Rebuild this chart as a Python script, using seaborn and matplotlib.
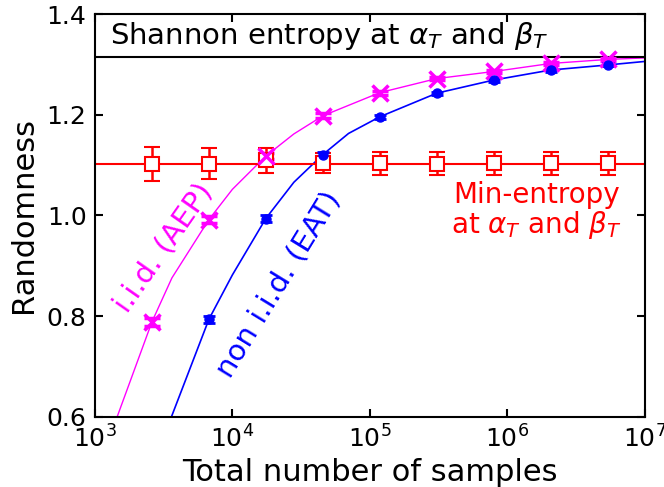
import numpy as np
import pandas as pd
import seaborn as sns
import matplotlib
matplotlib.use("Agg")
import matplotlib.pyplot as plt

# sample sizes where the protocol was evaluated
samples = [2.6e3, 6.75e3, 1.75e4, 4.55e4, 1.18e5, 3.07e5, 7.95e5, 2.07e6, 5.37e6]

# min-entropy estimates (red squares)
min_ent = [1.103, 1.103, 1.110, 1.105, 1.104, 1.103, 1.104, 1.104, 1.104]
min_err = [0.034, 0.031, 0.025, 0.020, 0.023, 0.023, 0.023, 0.023, 0.023]

# iid (AEP) points, magenta
iid_pts = [0.789, 0.992, 1.118, 1.198, 1.244, 1.272, 1.287, 1.302, 1.310]
iid_err = [0.008, 0.007, 0.006, 0.005, 0.004, 0.003, 0.003, 0.003, 0.003]

# non iid (EAT) points, blue (no point at the first sample size)
eat_samples = samples[1:]
eat_pts = [0.794, 0.994, 1.121, 1.196, 1.243, 1.269, 1.289, 1.299]
eat_err = [0.007, 0.006, 0.006, 0.004, 0.003, 0.003, 0.003, 0.003]

# theory curves
iid_curve_n = [1.45e3, 2.6e3, 3.63e3, 6.75e3, 1.0e4, 1.75e4, 2.8e4, 4.55e4,
               1.18e5, 3.07e5, 7.95e5, 2.07e6, 5.37e6, 1e7]
iid_curve = [0.600, 0.789, 0.876, 0.992, 1.052, 1.118, 1.162, 1.198,
             1.244, 1.272, 1.286, 1.302, 1.310, 1.313]
eat_curve_n = [3.6e3, 6.75e3, 1.0e4, 1.75e4, 2.8e4, 4.55e4, 7e4, 1.18e5,
               3.07e5, 7.95e5, 2.07e6, 5.37e6, 1e7]
eat_curve = [0.600, 0.794, 0.882, 0.994, 1.066, 1.121, 1.163, 1.196,
             1.243, 1.269, 1.289, 1.299, 1.306]

shannon = 1.315
min_entropy = 1.103

sns.set_style("ticks")
plt.rcParams['font.family'] = ['DejaVu Sans']
plt.rcParams['mathtext.fontset'] = 'dejavusans'
for k in ['text.color', 'axes.labelcolor', 'xtick.color', 'ytick.color', 'axes.edgecolor']:
    plt.rcParams[k] = 'black'

fig = plt.figure(figsize=(6.64, 4.87), dpi=100)
ax = fig.add_axes([0.143, 0.144, 0.828, 0.827])

df_iid = pd.DataFrame({"n": iid_curve_n, "r": iid_curve})
df_eat = pd.DataFrame({"n": eat_curve_n, "r": eat_curve})
sns.lineplot(data=df_iid, x="n", y="r", color="magenta", lw=1.0, ax=ax)
sns.lineplot(data=df_eat, x="n", y="r", color="blue", lw=1.2, ax=ax)

ax.axhline(shannon, color="black", lw=1.5)
ax.axhline(min_entropy, color="red", lw=1.5)

ax.errorbar(samples, min_ent, yerr=min_err, fmt="s", mfc="white", mec="red",
            ecolor="red", ms=10, mew=1.5, capsize=6, elinewidth=1.8, capthick=1.8)
ax.errorbar(samples, iid_pts, yerr=iid_err, fmt="x", color="magenta",
            ms=11, mew=2.5, capsize=6, elinewidth=1.5, capthick=2)
ax.errorbar(eat_samples, eat_pts, yerr=eat_err, fmt="o", color="blue",
            ms=6.5, capsize=4, elinewidth=1.5, capthick=2)

ax.set_xscale("log")
ax.set_xlim(1e3, 1e7)
ax.set_ylim(0.6, 1.4)
ax.set_xticks([1e3, 1e4, 1e5, 1e6, 1e7])
ax.set_yticks([0.6, 0.8, 1.0, 1.2, 1.4])
ax.xaxis.set_minor_locator(matplotlib.ticker.NullLocator())
ax.tick_params(direction="in", length=6, width=1.5, labelsize=18,
               top=True, right=True, pad=6)
for s in ax.spines.values():
    s.set_linewidth(1.5)

ax.set_xlabel("Total number of samples", fontsize=22, labelpad=4)
ax.set_ylabel("Randomness", fontsize=22, labelpad=6)

ax.text(0.027, 0.945, r"Shannon entropy at $\alpha_T$ and $\beta_T$",
        transform=ax.transAxes, fontsize=21, va="center", ha="left")
ax.text(0.803, 0.51, "Min-entropy\n" + r"at $\alpha_T$ and $\beta_T$",
        transform=ax.transAxes, fontsize=20, color="red",
        ha="center", va="center", linespacing=1.0)
ax.text(0.125, 0.419, "i.i.d. (AEP)", transform=ax.transAxes, fontsize=21,
        color="magenta", rotation=55, ha="center", va="center")
ax.text(0.335, 0.328, "non i.i.d. (EAT)", transform=ax.transAxes, fontsize=21,
        color="blue", rotation=58.5, ha="center", va="center")

fig.savefig("out.png", dpi=100)
